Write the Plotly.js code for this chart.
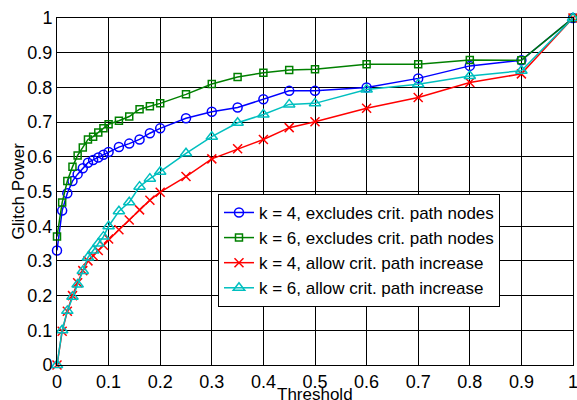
<!DOCTYPE html>
<html>
<head>
<meta charset="utf-8">
<script src="https://cdn.plot.ly/plotly-3.0.1.min.js"></script>
<style>html,body{margin:0;padding:0;background:#fff;}#chart{width:577px;height:400px;}</style>
</head>
<body>
<div id="chart"></div>
<script>
const thresholds = [0, 0.01, 0.02, 0.03, 0.04, 0.05, 0.06, 0.07, 0.08, 0.09, 0.1, 0.12, 0.14, 0.16, 0.18, 0.2, 0.25, 0.3, 0.35, 0.4, 0.45, 0.5, 0.6, 0.7, 0.8, 0.9, 1];
const k4Excl = [0.33, 0.445, 0.495, 0.53, 0.55, 0.567, 0.583, 0.591, 0.598, 0.606, 0.614, 0.628, 0.638, 0.65, 0.668, 0.682, 0.711, 0.73, 0.742, 0.766, 0.79, 0.79, 0.8, 0.826, 0.862, 0.878, 1];
const k6Excl = [0.37, 0.468, 0.53, 0.571, 0.604, 0.627, 0.65, 0.658, 0.67, 0.682, 0.694, 0.704, 0.716, 0.737, 0.746, 0.754, 0.78, 0.81, 0.83, 0.842, 0.85, 0.852, 0.867, 0.867, 0.879, 0.878, 1];
const k4Allow = [0, 0.097, 0.155, 0.2, 0.237, 0.272, 0.3, 0.315, 0.33, 0.345, 0.363, 0.39, 0.418, 0.447, 0.475, 0.498, 0.543, 0.594, 0.623, 0.65, 0.684, 0.701, 0.74, 0.771, 0.814, 0.839, 1];
const k6Allow = [0, 0.1, 0.156, 0.197, 0.232, 0.271, 0.31, 0.33, 0.35, 0.37, 0.4, 0.443, 0.469, 0.514, 0.537, 0.557, 0.61, 0.658, 0.698, 0.722, 0.751, 0.754, 0.794, 0.809, 0.833, 0.848, 1];
const seriesNames = ["k = 4, excludes crit. path nodes", "k = 6, excludes crit. path nodes", "k = 4, allow crit. path increase", "k = 6, allow crit. path increase"];
const tickVals = [0, 0.1, 0.2, 0.3, 0.4, 0.5, 0.6, 0.7, 0.8, 0.9, 1];
const tickText = ["0", "0.1", "0.2", "0.3", "0.4", "0.5", "0.6", "0.7", "0.8", "0.9", "1"];
const xTitle = "Threshold";
const yTitle = "Glitch Power";

const FONT = "Liberation Sans, Arial, Helvetica, sans-serif";
const colors = ["#0000ff", "#008000", "#ff0000", "#00bfbf"];
const symbols = ["circle-open", "square-open", "x-thin-open", "triangle-up-open"];
const sizes = [9, 7, 9, 10];
const ys = [k4Excl, k6Excl, k4Allow, k6Allow];

const traces = ys.map((y, i) => ({
  x: thresholds, y: y, name: seriesNames[i], type: "scatter", mode: "lines+markers", cliponaxis: false,
  line: {color: colors[i], width: 1.5},
  marker: {symbol: symbols[i], size: sizes[i], color: colors[i], line: {color: colors[i], width: 1.5}}
}));

const axisCommon = {
  range: [0, 1], tickvals: tickVals, ticktext: tickText,
  showgrid: true, gridcolor: "#000", gridwidth: 1,
  showline: true, linecolor: "#000", linewidth: 1, mirror: true,
  zeroline: false, ticks: "", ticklabeloverflow: "allow",
  tickfont: {family: FONT, size: 18, color: "#000"}, automargin: false
};

const layout = {
  width: 577, height: 400,
  margin: {l: 57, r: 4, t: 18, b: 35},
  paper_bgcolor: "#fff", plot_bgcolor: "#fff",
  font: {family: FONT, color: "#000"},
  xaxis: Object.assign({}, axisCommon, {ticklabelstandoff: 0}),
  yaxis: Object.assign({}, axisCommon, {ticklabelstandoff: 0}),
  annotations: [
    {text: xTitle, xref: "paper", yref: "paper", x: 0.5, y: 0, xanchor: "center", yanchor: "top", yshift: -18, showarrow: false,
     font: {family: FONT, size: 17, color: "#000"}},
    {text: yTitle, xref: "paper", yref: "paper", x: 0, y: 0.5, xanchor: "center", yanchor: "middle", xshift: -39, textangle: -90, showarrow: false,
     font: {family: FONT, size: 17, color: "#000"}}
  ],
  showlegend: true,
  legend: {x: 0.312, y: 0.493, xanchor: "left", yanchor: "top", bgcolor: "#fff", bordercolor: "#000", borderwidth: 1,
    font: {family: FONT, size: 17, color: "#000"}, tracegroupgap: 0, itemwidth: 30}
};

Plotly.newPlot("chart", traces, layout, {displayModeBar: false, staticPlot: true});
</script>
</body>
</html>
